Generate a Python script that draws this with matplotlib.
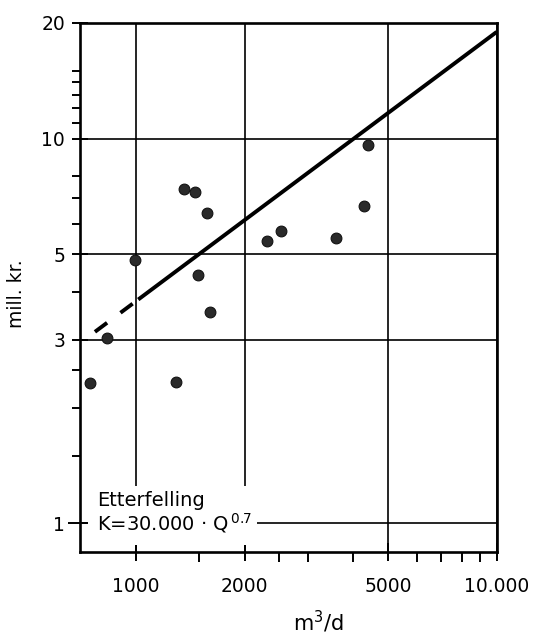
import numpy as np
import matplotlib
matplotlib.use("Agg")
import matplotlib.pyplot as plt
from matplotlib.patches import Rectangle
from matplotlib.ticker import FixedLocator, NullFormatter, FixedFormatter

plt.rcParams['font.family'] = ['DejaVu Sans']
plt.rcParams['mathtext.fontset'] = 'dejavusans'

# Plant capacity (m3/d) and construction cost (mill. kr.)
flow = [748, 831, 995, 1295, 1359, 1459, 1578, 1484, 1606, 2307, 2526, 3594, 4280, 4391]
cost = [2.32, 3.03, 4.83, 2.33, 7.39, 7.25, 6.39, 4.43, 3.54, 5.43, 5.74, 5.50, 6.69, 9.60]

# Cost function K = 30.000 * Q^0.7 (kr.)
coef_kr = 30000.0
exponent = 0.7
dashed_range = [770, 1000]
solid_range = [1015, 10000]

x_major = [1000, 2000, 5000, 10000]
x_major_labels = ["1000", "2000", "5000", "10.000"]
x_minor = [1500, 2500, 3000, 4000, 6000, 7000, 8000, 9000]
y_major = [1, 3, 5, 10, 20]
y_major_labels = ["1", "3", "5", "10", "20"]
y_minor = [1.5, 2, 2.5, 4, 6, 7, 8, 11, 12, 13, 14, 15]


def cost_curve(q):
    return coef_kr * np.asarray(q, dtype=float) ** exponent / 1e6


W, H = 541, 634
fig = plt.figure(figsize=(W / 100, H / 100), dpi=100)
ax = fig.add_axes([80 / W, 1 - 551.7 / H, 416.7 / W, 529 / H])
ax.set_xscale('log')
ax.set_yscale('log')
ax.set_xlim(700, 10000)
ax.set_ylim(0.844, 20)

ax.xaxis.set_major_locator(FixedLocator(x_major))
ax.xaxis.set_major_formatter(FixedFormatter(x_major_labels))
ax.xaxis.set_minor_locator(FixedLocator(x_minor))
ax.xaxis.set_minor_formatter(NullFormatter())
ax.yaxis.set_major_locator(FixedLocator(y_major))
ax.yaxis.set_major_formatter(FixedFormatter(y_major_labels))
ax.yaxis.set_minor_locator(FixedLocator(y_minor))
ax.yaxis.set_minor_formatter(NullFormatter())

ax.tick_params(axis='x', which='major', direction='inout', length=13, width=1.4,
               pad=12, labelsize=13.5, colors='black')
ax.tick_params(axis='x', which='minor', direction='out', length=7.5, width=1.4)
ax.tick_params(axis='y', which='major', direction='inout', length=11.5, width=1.4,
               pad=5, labelsize=13.5)
ax.tick_params(axis='y', which='minor', direction='out', length=5.8, width=1.4)

# the tick at 1 reaches further out from the spine
one_tick = ax.yaxis.get_major_ticks()[0]
one_tick.tick1line.set_markersize(17)

ax.grid(True, which='major', color='black', linewidth=1.2)
for s in ax.spines.values():
    s.set_linewidth(1.9)
    s.set_zorder(3)

# White panel behind the formula legend
ax.add_patch(Rectangle((0.019, 0.0127), 0.406, 0.111, transform=ax.transAxes,
                       facecolor='white', edgecolor='none', zorder=1.8))

# Cost function: dashed below 1000 m3/d, solid above
qd = np.geomspace(*dashed_range, 50)
qs = np.geomspace(*solid_range, 200)
ax.plot(qd, cost_curve(qd), color='black', lw=2.8, dashes=(3.9, 4.3),
        solid_capstyle='butt', dash_capstyle='butt', zorder=2.2)
ax.plot(qs, cost_curve(qs), color='black', lw=2.8, solid_capstyle='butt', zorder=2.2)

ax.scatter(flow, cost, s=60, facecolor='#2a2a2a', edgecolor='#111111',
           linewidth=0.8, zorder=4)

ax.text(0.040, 0.0864, "Etterfelling", transform=ax.transAxes, fontsize=14,
        va='baseline', ha='left', zorder=5)
ax.text(0.040, 0.041, "K=30.000 · Q$^{\\,0.7}$", transform=ax.transAxes, fontsize=14,
        va='baseline', ha='left', zorder=5)

fig.text(17 / W, 1 - 294 / H, "mill. kr.", rotation=90, fontsize=13.5,
         ha='center', va='center')
fig.text(318 / W, 1 - 631 / H, "m$^{3}$/d", fontsize=15, ha='center', va='baseline')

fig.savefig("out.png", dpi=100)
